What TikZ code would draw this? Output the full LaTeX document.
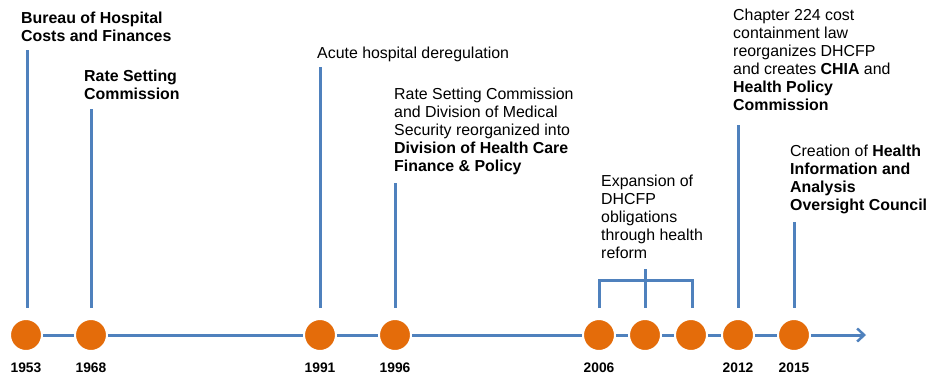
\documentclass[tikz,border=0pt]{standalone}
\usepackage{fontspec}
\setmainfont{Liberation Sans}
\usetikzlibrary{arrows.meta}
\definecolor{tlorange}{HTML}{E46C0A}
\definecolor{tlblue}{HTML}{4F81BD}
\tikzset{
  dot/.style={circle, fill=tlorange, draw=white, line width=2pt, minimum size=32pt, inner sep=0pt},
  year/.style={font=\fontsize{13.8}{16}\selectfont\bfseries, anchor=base, inner sep=0pt},
  label/.style={font=\fontsize{15.9}{18}\selectfont, align=left, anchor=north west, inner sep=0pt},
  tick/.style={draw=tlblue, line width=3pt},
  axis/.style={draw=tlblue, line width=3pt, -{Straight Barb[length=7pt,width=13pt,line width=2.5pt]}}
}
\begin{document}
\begin{tikzpicture}[x=1pt,y=-1pt]
\useasboundingbox (0,0) rectangle (931,381);
% timeline axis
\coordinate (start) at (26,335);
\coordinate (end) at (866,335);
\draw[axis] (start) -- (end);
% circles
\node[dot] (c1) at (26,335) {};
\node[dot] (c2) at (91,335) {};
\node[dot] (c3) at (320,335) {};
\node[dot] (c4) at (395,335) {};
\node[dot] (c5) at (599,335) {};
\node[dot] (c6) at (645,335) {};
\node[dot] (c7) at (691,335) {};
\node[dot] (c8) at (738,335) {};
\node[dot] (c9) at (794,335) {};
% years
\node[year] (y1) at (26,372) {1953};
\node[year] (y2) at (91,372) {1968};
\node[year] (y3) at (320,372) {1991};
\node[year] (y4) at (395,372) {1996};
\node[year] (y5) at (599,372) {2006};
\node[year] (y8) at (738,372) {2012};
\node[year] (y9) at (794,372) {2015};
% texts
\node[label] (t1) at (21,10.4) {\strut\textbf{Bureau of Hospital}\\\textbf{Costs and Finances}};
\node[label] (t2) at (84,68.4) {\strut\textbf{Rate Setting}\\\textbf{Commission}};
\node[label] (t3) at (317,45.4) {\strut Acute hospital deregulation};
\node[label] (t4) at (394,86.4) {\strut Rate Setting Commission\\and Division of Medical\\Security reorganized into\\\textbf{Division of Health Care}\\\textbf{Finance \& Policy}};
\node[label] (t5) at (601,173.4) {\strut Expansion of\\DHCFP\\obligations\\through health\\reform};
\node[label] (t6) at (733,7.4) {\strut Chapter 224 cost\\containment law\\reorganizes DHCFP\\and creates \textbf{CHIA} and\\\textbf{Health Policy}\\\textbf{Commission}};
\node[label] (t7) at (790,143.4) {\strut Creation of \textbf{Health}\\\textbf{Information and}\\\textbf{Analysis}\\\textbf{Oversight Council}};
% tick coordinates
\coordinate (a1) at (27,50);  \coordinate (b1) at (27,308);
\coordinate (a2) at (91,109); \coordinate (b2) at (91,308);
\coordinate (a3) at (320,67); \coordinate (b3) at (320,308);
\coordinate (a4) at (395,183); \coordinate (b4) at (395,308);
\coordinate (a8) at (738,125); \coordinate (b8) at (738,308);
\coordinate (a9) at (794,222); \coordinate (b9) at (794,308);
\coordinate (bl) at (599,308); \coordinate (br) at (692,308);
\coordinate (bm) at (645,308); \coordinate (am) at (645,269);
\draw[tick] (a1) -- (b1);
\draw[tick] (a2) -- (b2);
\draw[tick] (a3) -- (b3);
\draw[tick] (a4) -- (b4);
\draw[tick] (a8) -- (b8);
\draw[tick] (a9) -- (b9);
\draw[tick] (bl) |- (645,280) -| (br);
\draw[tick] (am) -- (bm);
\end{tikzpicture}
\end{document}
